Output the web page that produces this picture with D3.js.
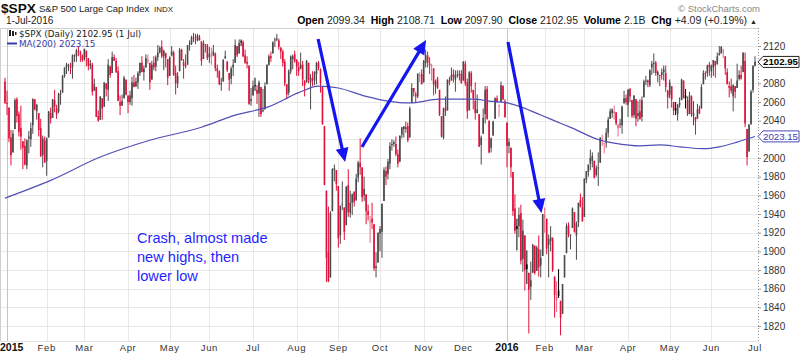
<!DOCTYPE html>
<html><head><meta charset="utf-8">
<script src="https://cdn.jsdelivr.net/npm/d3@7"></script>
<style>body{margin:0;background:#fff}svg{display:block}</style>
</head><body>
<svg id="c" width="800" height="356"></svg>
<script>
// ---- DATA (daily OHLC, 31-Dec-2014 .. 1-Jul-2016) ----
const prevClose0 = 2080;
const openP = [2082,
2059,2054,2022,2006,2031,2063,2047,2032,2018,2013,1992,2021,2020,2035,2063,2050,2048,2032,2003,2019,
1997,2022,2048,2043,2062,2053,2050,2068,2070,2088,2097,2099,2098,2097,2110,2109,2115,2113,2110,
2106,2115,2107,2099,2100,2072,2076,2045,2041,2064,2055,2080,2073,2098,2091,2108,2104,2093,2060,2056,2064,2084,
2067,2060,2064,2081,2077,2081,2091,2102,2092,2097,2105,2102,2084,2102,2098,2108,2113,2119,2109,2112,2106,
2088,2110,2113,2091,2080,2093,2116,2103,2100,2100,2122,2122,2130,2127,2126,2130,2125,2106,2122,2121,
2108,2110,2110,2112,2096,2093,2079,2082,2107,2103,2091,2085,2097,2102,2120,2112,2125,2124,2110,2103,2099,2061,
2067,2078,2073,2069,2076,2050,2052,2079,2100,2109,2112,2127,2127,2126,2118,2114,2103,2079,2070,2093,2106,2111,
2105,2097,2096,2100,2083,2081,2102,2081,2086,2083,2090,2102,2095,2076,2034,1965,1899,1872,1943,1987,1987,
1970,1917,1951,1947,1928,1971,1941,1952,1964,1955,1979,1995,1990,1960,1961,1943,1932,1935,1929,1882,1888,
1919,1921,1954,1986,1983,1994,2014,2015,2015,2004,1996,2025,2031,2033,2034,2022,2059,2075,2068,2066,2089,2090,
2081,2102,2110,2101,2098,2096,2077,2085,2073,2045,2022,2054,2051,2083,2083,2090,2084,2089,2089,2090,
2083,2101,2081,2051,2091,2073,2061,2048,2047,2014,2026,2047,2074,2040,2011,2024,2042,2064,2057,2060,2077,2061,
2038,2013,2011,1985,1946,1927,1927,1941,1892,1917,1886,1877,1862,1877,1906,1879,1902,1885,1895,
1936,1935,1907,1911,1914,1873,1848,1858,1847,1833,1872,1898,1928,1917,1925,1942,1917,1931,1955,1947,
1937,1977,1985,1994,1997,1997,1982,1990,1995,2019,2015,2016,2027,2042,2048,2048,2049,2032,2037,2035,2059,2064,
2057,2074,2062,2046,2063,2045,2050,2044,2065,2082,2083,2078,2097,2101,2102,2089,2089,2089,2092,2091,2072,
2068,2077,2060,2053,2047,2057,2062,2083,2067,2062,2047,2066,2045,2044,2042,2053,2053,2079,2091,2091,2100,
2093,2097,2104,2101,2110,2112,2115,2109,2092,2077,2077,2066,2077,2075,2085,2089,2092,2104,2031,2007,2036,2073,
2099];
const highP = [2086,
2072,2054,2030,2030,2064,2065,2050,2056,2018,2021,2020,2029,2038,2064,2063,2058,2048,2042,2024,2023,
2022,2050,2054,2063,2073,2057,2070,2073,2089,2097,2102,2101,2102,2111,2111,2117,2119,2115,2111,
2117,2115,2107,2105,2102,2085,2076,2051,2066,2064,2081,2080,2106,2099,2114,2111,2107,2098,2067,2068,2088,2084,
2067,2072,2087,2089,2086,2093,2102,2109,2099,2111,2111,2102,2104,2109,2110,2121,2120,2126,2116,2113,2106,
2109,2120,2115,2099,2092,2118,2117,2106,2111,2121,2126,2131,2134,2133,2133,2132,2125,2126,2122,2122,
2119,2118,2121,2113,2100,2094,2086,2106,2115,2104,2091,2098,2106,2127,2120,2127,2127,2126,2116,2109,2099,2075,
2083,2086,2078,2083,2076,2074,2081,2100,2111,2114,2125,2129,2133,2128,2119,2116,2106,2079,2095,2110,2111,2115,
2106,2103,2113,2104,2083,2105,2102,2090,2093,2093,2103,2104,2096,2076,2034,1965,1948,1943,1989,1993,1987,
1970,1949,1975,1947,1970,1988,1965,1962,1964,1983,1997,2021,1990,1980,1961,1950,1938,1952,1929,1899,1920,
1927,1951,1990,1991,1999,2017,2020,2019,2023,2009,2024,2033,2034,2039,2038,2055,2080,2075,2071,2091,2092,2095,
2105,2116,2114,2108,2101,2096,2084,2087,2073,2045,2054,2066,2084,2087,2097,2095,2094,2094,2094,2094,
2104,2104,2085,2093,2093,2073,2081,2068,2047,2024,2053,2077,2077,2040,2022,2040,2065,2067,2057,2082,2078,2063,
2038,2021,2011,1985,1961,1935,1947,1950,1934,1917,1901,1877,1889,1908,1906,1906,1917,1902,1940,
1947,1935,1918,1927,1915,1873,1868,1881,1847,1865,1896,1930,1931,1918,1947,1942,1932,1952,1962,1958,
1978,1986,1993,2009,2006,1997,1992,2006,2022,2025,2016,2032,2044,2053,2053,2056,2049,2036,2042,2056,2072,2068,
2074,2075,2062,2067,2063,2061,2063,2066,2084,2088,2084,2095,2104,2112,2104,2094,2089,2096,2099,2099,2073,
2084,2077,2060,2060,2058,2065,2085,2083,2074,2066,2071,2067,2061,2044,2058,2056,2079,2094,2093,2100,2103,
2100,2105,2104,2113,2120,2120,2117,2109,2096,2082,2085,2079,2077,2101,2094,2099,2113,2113,2031,2036,2073,2099,
2109];
const lowP = [2058,
2046,2017,1992,2006,2031,2038,2023,2009,1988,1992,1988,2005,2012,2026,2051,2041,2023,2001,1990,1995,
1981,2022,2037,2043,2049,2042,2048,2057,2070,2086,2090,2093,2090,2085,2103,2103,2109,2103,2103,
2104,2098,2094,2095,2067,2072,2044,2039,2041,2041,2055,2066,2061,2086,2091,2104,2091,2061,2046,2056,2064,2067,
2048,2057,2056,2076,2076,2074,2088,2092,2083,2097,2101,2073,2084,2094,2093,2104,2112,2107,2094,2097,2078,
2088,2109,2088,2068,2075,2093,2104,2085,2096,2100,2115,2121,2124,2122,2125,2126,2099,2106,2113,2105,
2102,2100,2109,2093,2086,2078,2072,2082,2106,2092,2072,2079,2088,2102,2108,2112,2120,2108,2101,2096,2057,2056,
2067,2072,2058,2044,2044,2049,2052,2079,2099,2103,2112,2119,2125,2116,2106,2098,2077,2063,2067,2090,2095,2102,
2088,2088,2095,2077,2066,2081,2080,2052,2077,2078,2079,2094,2070,2036,1971,1867,1867,1872,1943,1975,1965,
1904,1908,1944,1912,1928,1937,1936,1939,1948,1954,1974,1982,1953,1954,1929,1933,1909,1924,1879,1872,1888,
1900,1893,1954,1971,1977,1988,2008,2012,2002,1990,1996,2021,2022,2027,2017,2022,2059,2066,2059,2064,2081,2079,
2081,2097,2097,2090,2083,2067,2069,2074,2045,2022,2020,2045,2051,2078,2083,2081,2071,2086,2083,2080,
2083,2077,2042,2051,2070,2052,2041,2048,2012,1993,2026,2037,2041,2005,2006,2024,2042,2059,2044,2060,2062,2043,
1990,2005,1979,1938,1919,1901,1915,1886,1878,1858,1865,1812,1848,1877,1875,1879,1873,1872,1895,
1920,1897,1872,1900,1878,1829,1835,1850,1810,1833,1872,1898,1915,1902,1925,1920,1891,1926,1947,1932,
1937,1973,1980,1987,1990,1978,1980,1970,1995,2013,2005,2011,2022,2042,2043,2041,2035,2023,2032,2026,2058,2057,
2044,2060,2043,2043,2034,2039,2041,2039,2065,2078,2076,2076,2089,2091,2088,2081,2077,2084,2083,2071,2053,
2064,2054,2046,2046,2040,2054,2062,2064,2053,2045,2047,2044,2035,2025,2042,2047,2053,2079,2084,2087,2088,
2086,2088,2086,2100,2110,2112,2107,2089,2079,2065,2069,2050,2064,2075,2083,2084,2092,2033,1992,2007,2036,2070,
2098];
const closeP = [2059,
2058,2021,2003,2026,2062,2045,2028,2023,2011,1993,2019,2023,2032,2063,2052,2057,2030,2002,2021,1995,
2021,2050,2042,2063,2055,2047,2069,2069,2088,2097,2100,2100,2097,2110,2110,2115,2114,2111,2105,
2117,2108,2099,2101,2071,2079,2044,2040,2066,2053,2081,2074,2100,2089,2108,2104,2092,2061,2056,2061,2086,2068,
2060,2067,2081,2076,2082,2091,2102,2092,2096,2107,2105,2081,2100,2097,2108,2113,2118,2109,2115,2107,2086,
2108,2114,2089,2080,2088,2116,2105,2099,2098,2121,2123,2129,2128,2126,2131,2126,2104,2123,2121,2107,
2112,2110,2114,2096,2093,2079,2080,2105,2109,2094,2084,2096,2100,2121,2110,2123,2124,2109,2102,2101,2058,2063,
2077,2077,2069,2081,2047,2051,2077,2100,2109,2107,2124,2127,2128,2119,2114,2102,2080,2068,2093,2109,2109,2104,
2098,2093,2100,2084,2078,2104,2084,2086,2083,2092,2102,2097,2080,2036,1971,1893,1868,1941,1988,1989,1972,
1914,1949,1951,1921,1969,1942,1952,1961,1953,1978,1995,1990,1958,1967,1943,1939,1932,1931,1882,1884,1920,
1924,1951,1987,1980,1996,2013,2015,2017,2004,1994,2024,2033,2034,2031,2019,2053,2075,2071,2066,2090,2089,2079,
2104,2110,2102,2100,2099,2079,2082,2075,2046,2023,2053,2050,2084,2081,2089,2087,2089,2089,2090,2080,
2103,2080,2050,2092,2077,2064,2048,2052,2012,2022,2043,2073,2042,2006,2021,2039,2064,2061,2057,2078,2063,2044,
2013,2017,1990,1943,1922,1924,1939,1890,1922,1880,1881,1859,1869,1907,1877,1904,1883,1893,1940,
1939,1903,1913,1915,1880,1853,1852,1852,1829,1865,1896,1927,1918,1918,1946,1921,1930,1952,1948,1932,
1978,1986,1993,2000,2002,1979,1989,1990,2022,2020,2016,2027,2041,2050,2052,2050,2037,2036,2037,2055,2064,2060,
2073,2066,2045,2067,2042,2048,2042,2062,2082,2083,2081,2094,2101,2102,2091,2092,2088,2092,2095,2076,2065,
2081,2063,2051,2051,2057,2059,2084,2064,2064,2047,2067,2047,2048,2040,2052,2048,2076,2091,2090,2099,2097,
2099,2105,2099,2109,2112,2119,2115,2096,2079,2075,2072,2078,2071,2083,2089,2085,2113,2037,2001,2036,2071,2099,
2103];

// 200-day moving average (trading-day index, value)
const maIndex = [0,23,48,73,99,116,133,148,158,168,182,193,204,219,236,244,253,261,270,278,286,300,307,320,330,340,352,360,369,378];
const maValue = [1957,1976,2001,2019,2033,2046,2055,2070,2077,2075,2066,2061,2059,2063,2063,2061,2059,2054,2046,2039,2032,2019,2016,2013,2014,2012,2010,2012,2017,2023];

// month ticks: label and trading-day index of first session
const monthLabels = ["2015","Feb","Mar","Apr","May","Jun","Jul","Aug","Sep","Oct","Nov","Dec","2016","Feb","Mar","Apr","May","Jun","Jul"];
const monthIndex  = [1,21,40,62,83,103,125,147,168,189,211,231,253,272,292,314,335,356,378];
// visible price labels (2020 and 2100 are hidden behind the value tags)
const priceTicks = [1820,1840,1860,1880,1900,1920,1940,1960,1980,2000,2040,2060,2080,2120];
const gridTicks = [1800,1820,1840,1860,1880,1900,1920,1940,1960,1980,2000,2020,2040,2060,2080,2100,2120,2140];

const lastClose = "2102.95", lastMA = "2023.15";
const hdrLabels = ["Open","High","Low","Close","Volume","Chg"];
const hdrValues = ["2099.34","2108.71","2097.90","2102.95","2.1B","+4.09 (+0.19%)"];

// annotation arrows in data coordinates [index, price] -> [index, price]
const arrows = [
  [[157.8,2127.5],[171.4,1995.7]],
  [[179.9,2011.8],[212.2,2126.4]],
  [[253.5,2124.3],[270.4,1941.1]]
];
const noteLines = ["Crash, almost made","new highs, then","lower low"];

// ---- CHART ----
const svg = d3.select("#c");
const L = 0, R = 758, T = 28, B = 341;
const x = d3.scaleLinear().domain([1,378]).range([7,755]);
const y = d3.scaleLinear().domain([1820,2120]).range([326,46]);
const font = "Arial, 'Liberation Sans', sans-serif";

svg.append("defs").append("clipPath").attr("id","clip")
  .append("rect").attr("x",L).attr("y",T).attr("width",R-L).attr("height",B-T);

// grid
const grid = svg.append("g").attr("clip-path","url(#clip)");
grid.selectAll("line.h").data(gridTicks).join("line")
  .attr("x1",L).attr("x2",R).attr("y1",d=>Math.round(y(d))+0.5).attr("y2",d=>Math.round(y(d))+0.5)
  .attr("stroke","#e8e8e8").attr("stroke-width",1);
grid.selectAll("line.v").data(monthIndex.slice(0,-1)).join("line")
  .attr("x1",d=>Math.round(x(d))+0.5).attr("x2",d=>Math.round(x(d))+0.5).attr("y1",T).attr("y2",B)
  .attr("stroke",(d,i)=>/^\d{4}$/.test(monthLabels[i])?"#c4c4c4":"#e8e8e8").attr("stroke-width",1);

// frame
svg.append("line").attr("x1",L).attr("x2",R).attr("y1",T+0.5).attr("y2",T+0.5).attr("stroke","#d0d0d0");
svg.append("line").attr("x1",L+0.5).attr("x2",L+0.5).attr("y1",T).attr("y2",B).attr("stroke","#d0d0d0");
svg.append("line").attr("x1",L).attr("x2",R).attr("y1",B+0.5).attr("y2",B+0.5).attr("stroke","#e0e0e0");

// candles
const bars = closeP.map((c,i)=>({i, o:openP[i], h:highP[i], l:lowP[i], c, pc: i? closeP[i-1] : prevClose0}));
function col(d){
  const up = d.c >= d.pc, filled = d.c < d.o;
  if (up) return filled ? "#000000" : "#4a4a4a";
  return filled ? "#e0103a" : "#ec6a86";
}
const cg = svg.append("g").attr("clip-path","url(#clip)");
cg.selectAll("line.w").data(bars).join("line")
  .attr("x1",d=>x(d.i)).attr("x2",d=>x(d.i))
  .attr("y1",d=>y(Math.max(d.h,d.o,d.c))).attr("y2",d=>y(Math.min(d.l,d.o,d.c)))
  .attr("stroke",col).attr("stroke-width",1);
cg.selectAll("rect.b").data(bars).join("rect")
  .attr("x",d=>x(d.i)-0.8).attr("width",1.6)
  .attr("y",d=>y(Math.max(d.o,d.c)))
  .attr("height",d=>Math.max(1,Math.abs(y(d.o)-y(d.c))))
  .attr("fill",col);

// MA(200)
cg.append("path").datum(maIndex.map((d,i)=>[d,maValue[i]]))
  .attr("d",d3.line().x(d=>x(d[0])).y(d=>y(d[1])).curve(d3.curveMonotoneX))
  .attr("fill","none").attr("stroke","#5050b8").attr("stroke-width",1.2);

// right axis
svg.append("line").attr("x1",R+0.5).attr("x2",R+0.5).attr("y1",T).attr("y2",B)
  .attr("stroke","#999").attr("stroke-dasharray","1,2");
const ax = svg.append("g").attr("transform",`translate(${R},0)`)
  .call(d3.axisRight(y).tickValues(priceTicks).tickSize(3).tickFormat(d3.format("d")));
ax.select(".domain").remove();
ax.selectAll(".tick line").attr("stroke","#999");
ax.selectAll(".tick text").attr("x",5).attr("font-family",font).attr("font-size",10).attr("fill","#333");

// price tags
function tag(v, txt, stroke, fill, bold){
  const yy = y(+v);
  const g = svg.append("g");
  g.append("path").attr("d",`M${R},${yy} L${R+5},${yy-5.5} H799 V${yy+5.5} H${R+5} Z`)
    .attr("fill","#fff").attr("stroke",stroke).attr("stroke-width",1);
  g.append("text").attr("x",R+5).attr("y",yy+3.4).text(txt)
    .attr("font-family",font).attr("font-size",9.5).attr("font-weight",bold?"bold":"normal").attr("fill",fill)
    .attr("textLength",35).attr("lengthAdjust","spacingAndGlyphs");
}
tag(lastClose,lastClose,"#222","#000",true);
tag(lastMA,lastMA,"#4a4ab4","#3a3aa8",false);

// bottom axis labels
svg.append("g").selectAll("text").data(monthLabels).join("text")
  .attr("x",(d,i)=> i===0 ? 0 : x(monthIndex[i]))
  .attr("text-anchor",(d,i)=> i===0 ? "start" : "middle")
  .attr("y",351)
  .attr("font-family",font)
  .attr("font-size",d=>/^\d{4}$/.test(d)?10.5:9.5)
  .attr("font-weight",d=>/^\d{4}$/.test(d)?"bold":"normal")
  .attr("fill",d=>/^\d{4}$/.test(d)?"#111":"#333")
  .attr("letter-spacing",d=>/^\d{4}$/.test(d)?0:0.6)
  .text(d=>d);

// header
svg.append("text").attr("x",1).attr("y",13).text("$SPX")
  .attr("font-family",font).attr("font-size",13.7).attr("font-weight","bold").attr("fill","#111");
svg.append("text").attr("x",39).attr("y",12).text("S&P 500 Large Cap Index")
  .attr("font-family",font).attr("font-size",9.5).attr("fill","#222");
svg.append("text").attr("x",154).attr("y",12).text("INDX")
  .attr("font-family",font).attr("font-size",8).attr("fill","#222");
svg.append("text").attr("x",6).attr("y",24).text("1-Jul-2016")
  .attr("font-family",font).attr("font-size",10).attr("fill","#222");
svg.append("text").attr("x",760).attr("y",12).attr("text-anchor","end").text("\u00a9 StockCharts.com")
  .attr("font-family",font).attr("font-size",9.5).attr("fill","#888");
const ht = svg.append("text").attr("x",757).attr("y",24).attr("text-anchor","end")
  .attr("font-family",font).attr("font-size",10.5).attr("fill","#222");
hdrLabels.forEach((l,i)=>{
  ht.append("tspan").attr("font-weight","bold").attr("fill","#000").text((i?"  ":"")+l+" ");
  ht.append("tspan").text(hdrValues[i]);
});
ht.append("tspan").attr("font-size",7).attr("dx",3).text("\u25B2");
ht.attr("xml:space","preserve").style("white-space","pre");

// legend
const lg = svg.append("g");
lg.append("rect").attr("x",9).attr("y",30).attr("width",2).attr("height",6).attr("fill","#222");
lg.append("rect").attr("x",12).attr("y",31).attr("width",2).attr("height",5).attr("fill","#222");
lg.append("rect").attr("x",15).attr("y",32).attr("width",1.5).attr("height",3).attr("fill","#222");
lg.append("text").attr("x",19).attr("y",37).text("$SPX (Daily) 2102.95 (1 Jul)")
  .attr("font-family","'DejaVu Sans', Verdana, sans-serif").attr("font-size",8.8).attr("fill","#222");
lg.append("line").attr("x1",7).attr("x2",17).attr("y1",43.5).attr("y2",43.5).attr("stroke","#3a3aa8").attr("stroke-width",2);
lg.append("text").attr("x",19).attr("y",47).text("MA(200) 2023.15")
  .attr("font-family","'DejaVu Sans', Verdana, sans-serif").attr("font-size",8.8).attr("fill","#3a3aa8");

// annotation arrows
const ag = svg.append("g");
arrows.forEach(([s,e])=>{
  const x1=x(s[0]), y1=y(s[1]), x2=x(e[0]), y2=y(e[1]);
  const dx=x2-x1, dy=y2-y1, len=Math.hypot(dx,dy), ux=dx/len, uy=dy/len;
  const hl=14, hw=6.5;
  const bx=x2-ux*hl, by=y2-uy*hl;
  ag.append("line").attr("x1",x1).attr("y1",y1).attr("x2",bx+ux*2).attr("y2",by+uy*2)
    .attr("stroke","#1515f0").attr("stroke-width",3.2).attr("stroke-linecap","butt");
  ag.append("path").attr("d",`M${x2},${y2} L${bx-uy*hw},${by+ux*hw} L${bx+uy*hw},${by-ux*hw} Z`)
    .attr("fill","#1515f0");
});
svg.append("g").selectAll("text").data(noteLines).join("text")
  .attr("x",137).attr("y",(d,i)=>243+i*19).text(d=>d)
  .attr("font-family",font).attr("font-size",14.6).attr("fill","#1f1fff");
</script>
</body></html>
